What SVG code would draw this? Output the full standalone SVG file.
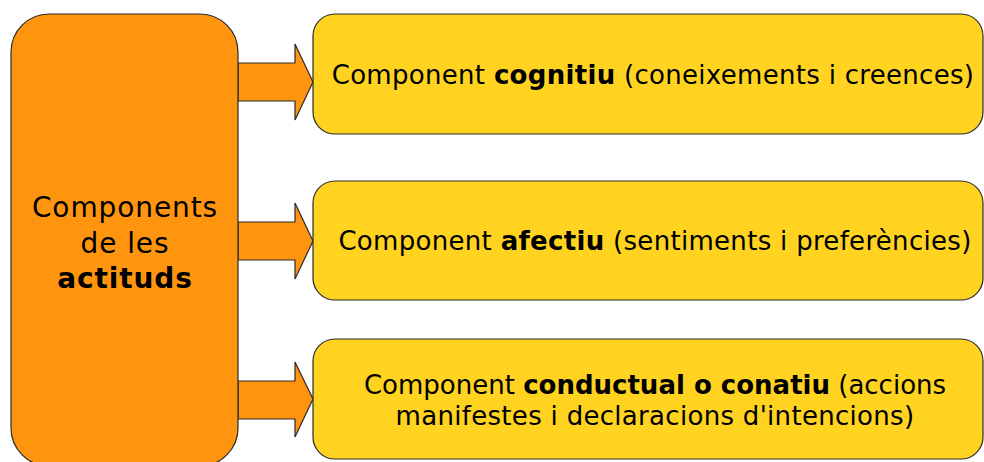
<svg xmlns="http://www.w3.org/2000/svg" width="984" height="462" viewBox="0 0 984 462">
<style>
.org{fill:#FF950E;stroke:#2a2a2a;stroke-width:1.2}
.yel{fill:#FFD320;stroke:#2a2a2a;stroke-width:1.2}
.arr{fill:#FF950E;stroke:#2a2a2a;stroke-width:1.2;stroke-linejoin:miter}
text{font-family:"DejaVu Sans",Verdana,sans-serif;fill:#000}
.t{font-size:26px;letter-spacing:0.3px;text-anchor:middle}
.l{font-size:28px;letter-spacing:0.9px;text-anchor:middle}
.b{font-weight:bold}
</style>
<g id="connectors">
<path class="arr" d="M238,63 H295 V44 L313,82 L295,120 V101 H238 Z"/>
<path class="arr" d="M238,222 H295 V203 L313,241 L295,279 V260 H238 Z"/>
<path class="arr" d="M238,381 H295 V362 L313,399 L295,437 V419 H238 Z"/>
</g>
<g id="main">
<rect class="org" x="11" y="14" width="227" height="452" rx="38" ry="38"/>
<text class="l" x="125" y="217">Components</text>
<text class="l" x="125" y="253">de les</text>
<text class="l b" x="125" y="288">actituds</text>
</g>
<g id="cognitiu">
<rect class="yel" x="313" y="14" width="670" height="120" rx="22" ry="22"/>
<text class="t" x="653" y="84">Component <tspan class="b">cognitiu</tspan> (coneixements i creences)</text>
</g>
<g id="afectiu">
<rect class="yel" x="313" y="181" width="670" height="119" rx="22" ry="22"/>
<text class="t" x="655" y="250">Component <tspan class="b">afectiu</tspan> (sentiments i preferències)</text>
</g>
<g id="conductual">
<rect class="yel" x="313" y="339" width="670" height="120" rx="22" ry="22"/>
<text class="t" x="655" y="394" style="letter-spacing:0px">Component <tspan class="b">conductual o conatiu</tspan> (accions</text>
<text class="t" x="655" y="425">manifestes i declaracions d'intencions)</text>
</g>
</svg>
